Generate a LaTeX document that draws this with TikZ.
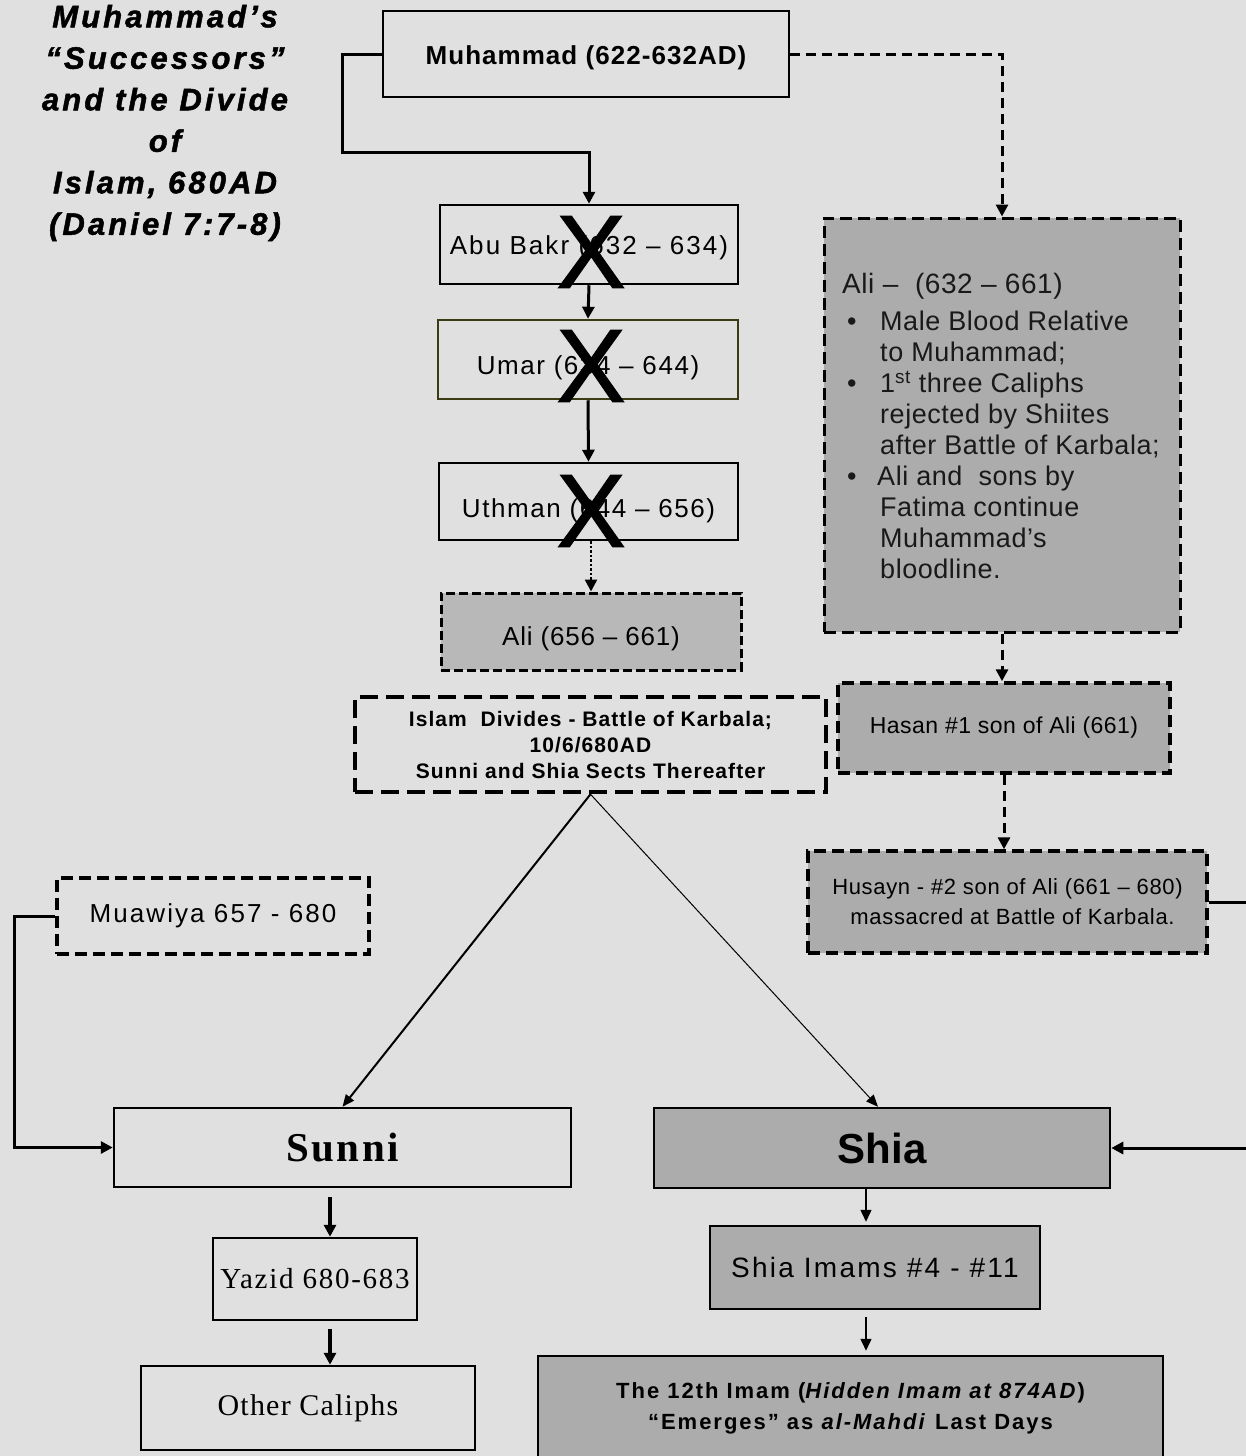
\documentclass[tikz,border=0pt]{standalone}
\usepackage{fontspec}
\setmainfont{Liberation Sans}
\newfontfamily\seriff{Liberation Serif}
\usetikzlibrary{arrows.meta,calc}
\definecolor{bg}{RGB}{224,224,224}
\definecolor{boxgray}{RGB}{172,172,172}
\definecolor{dotgray}{RGB}{184,184,184}
\definecolor{olivebrd}{RGB}{60,60,20}
\newcommand{\lowr}[2]{\raisebox{-#1pt}[0pt][0pt]{#2}}
\begin{document}
\begin{tikzpicture}[x=1pt,y=-1pt,
  box/.style={draw=black, line width=2.5pt, inner sep=0pt, align=center},
  gbox/.style={box, fill=boxgray},
  dbox/.style={draw=black, line width=3.5pt, dash pattern=on 12pt off 6pt, inner sep=0pt, align=center},
  conn/.style={line width=3pt, -{Triangle[length=12pt,width=12pt]}},
  thinconn/.style={line width=1.5pt, -{Triangle[length=12pt,width=11pt]}},
  dconn/.style={line width=3pt, dash pattern=on 10pt off 6pt, -{Triangle[length=12pt,width=12pt]}},
  xmark/.style={inner sep=0pt, font=\fontsize{104pt}{104pt}\selectfont\addfontfeature{FakeBold=1.2}}
]
\fill[bg] (0,0) rectangle (1246,1456);
\useasboundingbox (0,0) rectangle (1246,1456);
\clip (0,0) rectangle (1246,1456);

% title
\node[align=center, inner sep=0pt, font=\fontsize{31pt}{41.5pt}\selectfont\bfseries\itshape\addfontfeature{LetterSpace=10,FakeBold=1.5}] (title) at (165,123) {Muhammad’s\\“Successors”\\and the Divide\\of\\Islam, 680AD\\(Daniel 7:7-8)};

% left column
\node[box, minimum width=406pt, minimum height=86pt, font=\fontsize{26pt}{30pt}\selectfont\bfseries\addfontfeature{LetterSpace=4}] (muh) at (586,54) {\lowr{10}{Muhammad (622-632AD)}};
\node[box, minimum width=298pt, minimum height=79pt, font=\fontsize{26pt}{30pt}\selectfont\addfontfeature{LetterSpace=8}] (abu) at (589,244.5) {\lowr{10}{Abu Bakr (632 – 634)}};
\node[box, draw=olivebrd, minimum width=300pt, minimum height=79pt, font=\fontsize{26pt}{30pt}\selectfont\addfontfeature{LetterSpace=6}] (umar) at (588,359.5) {\lowr{15}{Umar (634 – 644)}};
\node[box, minimum width=299pt, minimum height=77pt, font=\fontsize{26pt}{30pt}\selectfont\addfontfeature{LetterSpace=6}] (uth) at (588.5,501.5) {\lowr{16}{Uthman (644 – 656)}};
\node[xmark] (x1) at (591,252) {X};
\node[xmark] (x2) at (591,366) {X};
\node[xmark] (x3) at (591,511) {X};

\node[dbox, fill=dotgray, line width=3pt, dash pattern=on 9pt off 4pt, minimum width=300pt, minimum height=77pt, font=\fontsize{26pt}{30pt}\selectfont\addfontfeature{LetterSpace=3}] (ali2) at (591,631.5) {\lowr{14}{Ali (656 – 661)}};

\node[dbox, line width=4.5pt, dash pattern=on 18pt off 8pt, minimum width=471pt, minimum height=95pt, font=\fontsize{21pt}{26pt}\selectfont\bfseries\addfontfeature{LetterSpace=5}] (karb) at (590.5,744.5) {Islam\ \ Divides - Battle of Karbala;\\10/6/680AD\\Sunni and Shia Sects Thereafter};

% right column
\node[dbox, fill=boxgray, line width=3pt, minimum width=356pt, minimum height=414pt] (alibox) at (1002,425) {};
\node[anchor=north west, align=left, inner sep=0pt, text=black!90, font=\fontsize{27pt}{31pt}\selectfont\addfontfeature{LetterSpace=2}] (alitxt) at (842,273) {%
{\fontsize{28pt}{31pt}\selectfont Ali –\ \ (632 – 661)}\\[6pt]
\makebox[38pt][l]{\hspace{5pt}•}Male Blood Relative\\
\hspace*{38pt}to Muhammad;\\
\makebox[38pt][l]{\hspace{5pt}•}1\textsuperscript{st} three Caliphs\\
\hspace*{38pt}rejected by Shiites\\
\hspace*{38pt}after Battle of Karbala;\\
\makebox[35pt][l]{\hspace{5pt}•}Ali and\ \ sons by\\
\hspace*{38pt}Fatima continue\\
\hspace*{38pt}Muhammad’s\\
\hspace*{38pt}bloodline.};

\node[dbox, fill=boxgray, minimum width=332pt, minimum height=90pt, font=\fontsize{23pt}{26pt}\selectfont\addfontfeature{LetterSpace=2}] (hasan) at (1004,728) {Hasan \#1 son of Ali (661)};
\node[dbox, fill=boxgray, minimum width=399pt, minimum height=102pt, font=\fontsize{22pt}{30pt}\selectfont\addfontfeature{LetterSpace=3}] (husayn) at (1007.5,902) {Husayn - \#2 son of Ali (661 – 680)\\\hspace*{10pt}massacred at Battle of Karbala.};

\node[dbox, minimum width=312pt, minimum height=76pt, font=\fontsize{26pt}{30pt}\selectfont\addfontfeature{LetterSpace=8}] (muaw) at (213,916) {Muawiya 657 - 680};

% bottom
\node[box, minimum width=457pt, minimum height=79pt, font=\fontsize{41pt}{41pt}\selectfont\seriff\bfseries\addfontfeature{LetterSpace=6}] (sunni) at (342.5,1147.5) {Sunni};
\node[gbox, minimum width=456pt, minimum height=80pt, font=\fontsize{42pt}{42pt}\selectfont\bfseries] (shia) at (882,1148) {Shia};
\node[box, minimum width=204pt, minimum height=82pt, font=\fontsize{29pt}{30pt}\selectfont\seriff\addfontfeature{LetterSpace=6}] (yazid) at (315,1279) {Yazid 680-683};
\node[box, minimum width=334pt, minimum height=84pt, font=\fontsize{30pt}{30pt}\selectfont\seriff\addfontfeature{LetterSpace=4}] (other) at (308,1408) {Other Caliphs};
\node[gbox, minimum width=330pt, minimum height=83pt, font=\fontsize{28pt}{30pt}\selectfont\addfontfeature{LetterSpace=8}] (imams) at (875,1267.5) {Shia Imams \#4 - \#11};
\node[gbox, minimum width=625pt, minimum height=104pt, font=\fontsize{22pt}{31pt}\selectfont\bfseries\addfontfeature{LetterSpace=9}] (twelve) at (850.5,1408) {The 12th Imam (\textit{Hidden Imam at 874AD})\\“Emerges” as \textit{al-Mahdi} Last Days};

% coordinates for free ends / bends
\coordinate (c1) at (342,152);
\coordinate (offl) at (14,1000);
\coordinate (offr) at (1275,1000);
\coordinate (sx) at (330,0);
\coordinate (hx) at (866,0);
\coordinate (shx) at (878,0);

% connectors
\draw[conn] (muh.west) -| (c1) -- (c1 -| abu.north) -- (abu.north);
\draw[dconn] (muh.east) -| (alibox.north);
\draw[conn] (abu.south) -- (umar.north);
\draw[conn] (umar.south) -- (uth.north);
\draw[line width=2.5pt, dotted, -{Triangle[length=12pt,width=12pt]}] (uth.south -| ali2.north) -- (ali2.north);
\draw[line width=2pt, -{Triangle[length=12pt,width=10pt]}] (karb.south) -- (sunni.north);
\draw[line width=1pt, -{Triangle[length=12pt,width=10pt]}] (karb.south) -- (shia.north -| shx);
\draw[dconn] (alibox.south) -- (alibox.south |- hasan.north);
\draw[dconn] (hasan.south) -- (hasan.south |- husayn.north);
\draw[conn] (husayn.east) -- (husayn.east -| offr) -- (shia.east -| offr) -- (shia.east);
\draw[conn] (muaw.west) -- (muaw.west -| offl) -- (sunni.west -| offl) -- (sunni.west);
\draw[conn, line width=4pt, shorten <=9pt] (sunni.south -| sx) -- (yazid.north -| sx);
\draw[conn, line width=4pt, shorten <=8pt] (yazid.south -| sx) -- (other.north -| sx);
\draw[thinconn, shorten >=3pt] (shia.south -| hx) -- (imams.north -| hx);
\draw[thinconn, shorten <=7pt, shorten >=4pt] (imams.south -| hx) -- (twelve.north -| hx);
\end{tikzpicture}
\end{document}
